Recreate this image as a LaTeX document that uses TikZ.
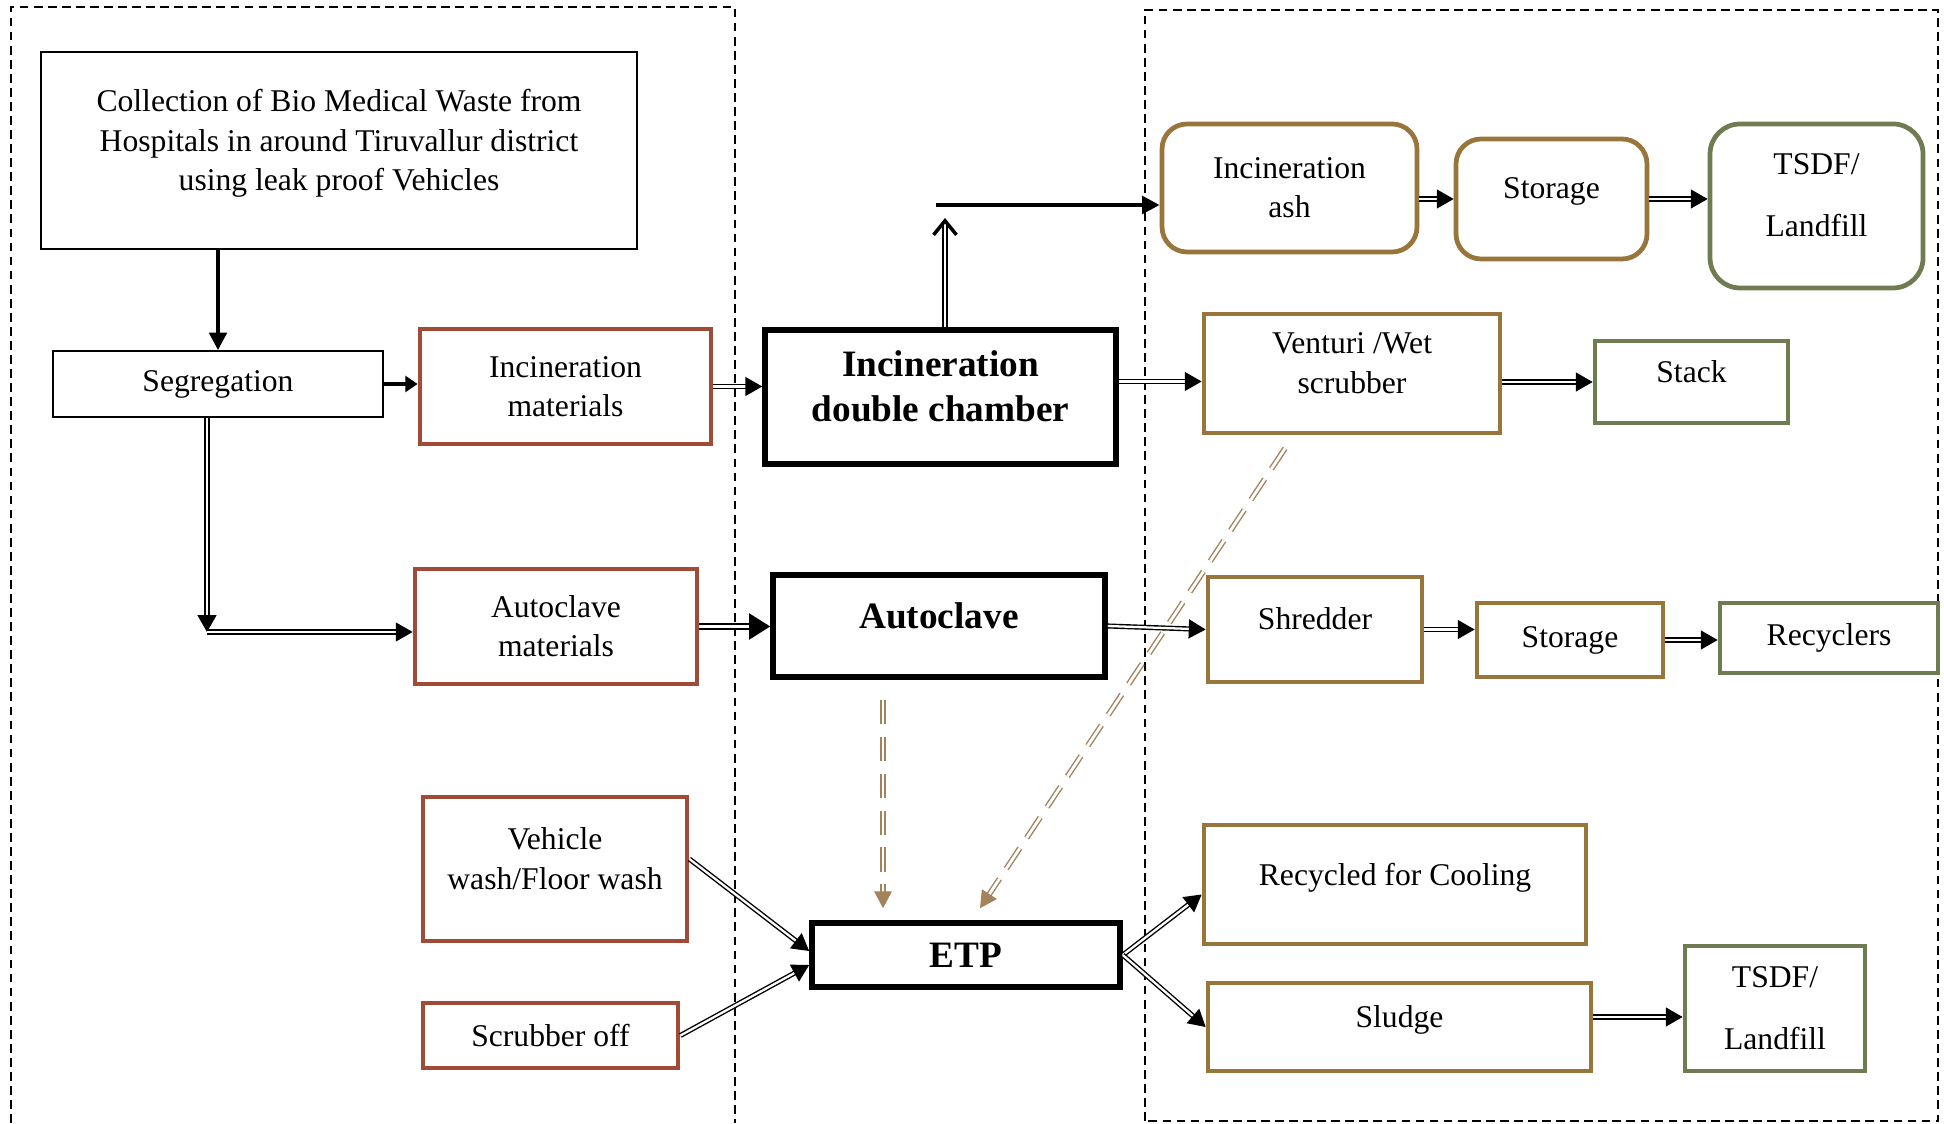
\documentclass[tikz,border=0pt]{standalone}
\usepackage{fontspec}
\setmainfont{Liberation Serif}
\usetikzlibrary{arrows.meta}
\definecolor{rustred}{HTML}{A04A38}
\definecolor{ochre}{HTML}{98753A}
\definecolor{mossgreen}{HTML}{6F7B50}
\definecolor{dashbrown}{HTML}{A2835C}

\begin{document}
\begin{tikzpicture}[
	font=\fontsize{9}{11.2}\selectfont,
	block/.style={draw, align=center, inner sep=2pt},
	sz/.style 2 args={minimum width=#1cm, minimum height=#2cm},
	thinbox/.style={block, line width=0.5pt},
	heavy/.style={block, line width=1.6pt, font=\fontsize{10.6}{12.8}\selectfont\bfseries},
	redbox/.style={block, draw=rustred, line width=1.35pt},
	goldbox/.style={block, draw=ochre, line width=1.35pt},
	greenbox/.style={block, draw=mossgreen, line width=1.35pt},
	lift/.style={text depth=6pt},
	frame/.style={line width=0.5pt, dash pattern=on 2.5pt off 1.5pt},
	dbl/.style={double, double distance=0.65pt, line width=0.4pt, -{Triangle[length=4.8pt,width=5.4pt]}},
	bigdbl/.style={double, double distance=1pt, line width=0.6pt, -{Triangle[length=6pt,width=7.4pt]}},
	brownflow/.style={draw=dashbrown, double, double distance=0.8pt, line width=0.4pt, dash pattern=on 7pt off 3.5pt, -{Triangle[length=4.8pt,width=5pt]}},
]
	\useasboundingbox (0,0) rectangle (19.44,11.23);
	% the two dashed zones
	\draw[frame] (0.11,0) -- (0.11,11.16) -- (7.35,11.16) -- (7.35,0);
	\draw[frame] (11.45,0.02) rectangle (19.38,11.13);

	% collection and treatment
	\node[thinbox, lift, sz={5.96}{1.97}] (coll) at (3.39,9.725) {Collection of Bio Medical Waste from\\Hospitals in around Tiruvallur district\\using leak proof Vehicles};
	\node[thinbox, sz={3.30}{0.66}] (seg) at (2.18,7.39) {Segregation};
	\node[redbox, sz={2.91}{1.15}] (incmat) at (5.655,7.365) {Incineration\\materials};
	\node[heavy, lift, sz={3.51}{1.34}] (idc) at (9.405,7.26) {Incineration\\double chamber};
	\node[redbox, sz={2.82}{1.15}] (automat) at (5.56,4.965) {Autoclave\\materials};
	\node[heavy, lift, sz={3.32}{1.02}] (auto) at (9.39,4.97) {Autoclave};
	\node[redbox, lift, sz={2.64}{1.44}] (vwash) at (5.55,2.54) {Vehicle\\wash/Floor wash};
	\node[redbox, sz={2.55}{0.65}] (scrub) at (5.505,0.875) {Scrubber off};
	\node[heavy, sz={3.08}{0.64}] (etp) at (9.66,1.68) {ETP};

	% disposal side
	\node[goldbox, rounded corners=0.25cm, sz={2.55}{1.28}] (ash) at (12.895,9.35) {Incineration\\ash};
	\node[goldbox, rounded corners=0.25cm, lift, sz={1.91}{1.20}] (stor1) at (15.515,9.24) {Storage};
	\node[greenbox, rounded corners=0.3cm, lift, sz={2.13}{1.64}] (tsdf1) at (18.165,9.17) {TSDF/\\[6.4pt]Landfill};
	\node[goldbox, lift, sz={2.96}{1.19}] (vent) at (13.52,7.495) {Venturi /Wet\\scrubber};
	\node[greenbox, lift, sz={1.93}{0.82}] (stack) at (16.915,7.41) {Stack};
	\node[goldbox, lift, sz={2.14}{1.05}] (shred) at (13.15,4.935) {Shredder};
	\node[goldbox, sz={1.86}{0.74}] (stor2) at (15.70,4.83) {Storage};
	\node[greenbox, sz={2.18}{0.70}] (recyc) at (18.29,4.85) {Recyclers};
	\node[goldbox, lift, sz={3.82}{1.19}] (cool) at (13.95,2.385) {Recycled for Cooling};
	\node[goldbox, lift, sz={3.83}{0.88}] (sludge) at (13.995,0.96) {Sludge};
	\node[greenbox, sz={1.80}{1.25}] (tsdf2) at (17.75,1.145) {TSDF/\\[6.4pt]Landfill};

	\coordinate (bend) at (2.07,4.91);
	\coordinate (riser) at (9.45,9.05);
	\coordinate (ashline) at (9.36,9.18);

	% flows
	\draw[line width=1pt, -{Triangle[length=5pt,width=5pt]}] (coll.south -| seg.north) -- (seg.north);
	\draw[line width=1.4pt, -{Triangle[length=3.5pt,width=4.5pt]}] (seg.east) -- (seg.east -| incmat.west);
	\draw[dbl] (seg.south -| bend) -- (bend);
	\draw[dbl] (bend) -- (bend -| automat.west);
	\draw[dbl] (incmat.east) -- (incmat.east -| idc.west);
	\draw[double, double distance=0.65pt, line width=0.4pt, -{Straight Barb[length=4pt,width=6.5pt,line width=1pt]}] (idc.north -| riser) -- (riser);
	\draw[line width=1.1pt, -{Triangle[length=5pt,width=5pt]}] (ashline) -- (ashline -| ash.west);
	\draw[dbl] ([yshift=-0.8mm]idc.east |- vent.west) -- ([yshift=-0.8mm]vent.west);
	\draw[dbl] (vent.east |- stack.west) -- (stack.west);
	\draw[dbl] (ash.east |- stor1.west) -- (stor1.west);
	\draw[dbl] (stor1.east) -- (stor1.east -| tsdf1.west);
	\draw[bigdbl] (automat.east) -- (automat.east -| auto.west);
	\draw[dbl] (auto.east) -- (shred.west);
	\draw[dbl] (shred.east) -- (shred.east -| stor2.west);
	\draw[dbl] (stor2.east) -- (stor2.east -| recyc.west);
	\draw[dbl] ([yshift=1mm]vwash.east) -- ([yshift=0.4mm]etp.west);
	\draw[dbl] (scrub.east) -- ([yshift=-1mm]etp.west);
	\draw[dbl] (etp.east) -- ([yshift=-1mm]cool.west);
	\draw[dbl] (etp.east) -- (sludge.west);
	\draw[dbl] ([yshift=1mm]sludge.east) -- ([yshift=1mm]sludge.east -| tsdf2.west);
	\draw[brownflow] ([xshift=-0.56cm,yshift=-0.2cm]auto.south) -- ([xshift=-0.83cm,yshift=0.12cm]etp.north);
	\draw[brownflow] ([xshift=-0.67cm,yshift=-0.13cm]vent.south) -- ([xshift=0.14cm,yshift=0.12cm]etp.north);
\end{tikzpicture}
\end{document}
